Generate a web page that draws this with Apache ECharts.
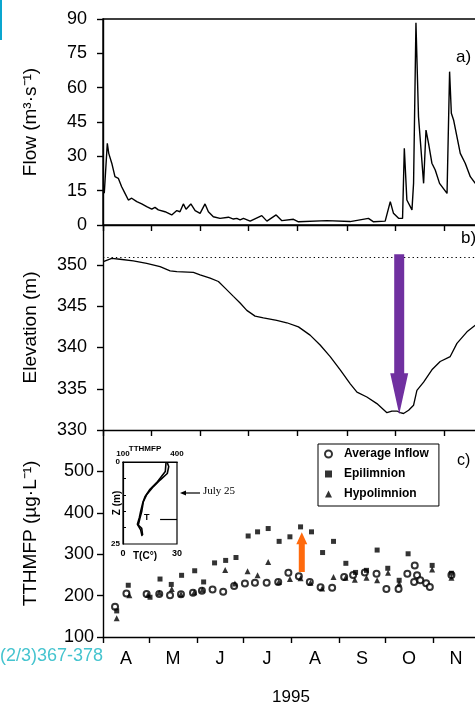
<!DOCTYPE html>
<html><head><meta charset="utf-8">
<script src="https://cdn.jsdelivr.net/npm/echarts@6/dist/echarts.min.js"></script>
<style>html,body{margin:0;padding:0;background:#fff}#c{width:475px;height:708px}</style>
</head><body><div id="c"></div>
<script>
// ---- x axis: days since April 1, 1995 ----
const monthStarts = [0,30,61,91,122,153,183,214,244];
const monthMids = [15,45.5,76,106.5,137.5,168,198.5,229];
const monthLabels = ['A','M','J','J','A','S','O','N'];

// ---- a) flow ----
const flowDays = [0.8,1.9,2.7,3.6,5.5,7.5,9.6,11.7,13.8,15.9,18.0,21.2,24.3,27.4,30.6,32.6,34.7,38.9,43.1,46.3,48.3,50.4,52.1,55.1,57.8,60.9,64.0,66.1,69.2,73.4,78.7,81.8,83.9,86.0,88.1,92.3,99.6,102.8,108.6,112.2,119.5,122.6,140.4,155,166.5,169.7,177.0,180.2,182.2,185.4,187.9,189.0,190.6,193.8,194.8,196.3,197.9,201.1,202.6,204.2,206.3,208.4,211.1,215.8,217.4,218.5,219.9,222.0,224.1,227.2,230.4,233.5,236.6];
const flowValues = [13.9,13.5,35.7,31.3,27,21.1,20.4,16.7,13.8,10.9,11.7,10.2,9.2,8,6.9,7.7,6.6,5.8,4.4,6.3,5.8,9.2,6.9,9.2,6.3,5.1,9.2,5.8,3.6,2.9,3.4,2.6,2.9,2.2,2.9,1.7,4.1,1.7,4.4,1.9,2.5,1.4,1.9,1.5,2.9,1.4,1.7,10.2,5.1,2.9,2.9,33.5,10.9,6.6,18.2,88.4,47.3,18.2,41.5,35.7,27,24,18.2,13.8,67,48.8,45.9,38.6,31.3,27,21.1,18.2,23];

// ---- b) elevation ----
const elevDays = [0.2,1.3,5.5,10.7,19.0,27.4,35.8,42.1,46.3,56.7,60.9,67.2,72.4,76.6,81.8,86.0,90.2,95.4,100.6,109.0,115.3,122.6,129.9,136.2,142.5,148.8,155.1,159.3,165.5,171.8,178.1,181.2,184.4,186.4,188.5,191.7,194.8,196.9,201.1,206.3,211.5,217.8,222.0,228.3,233.5,236.7];
const elevValues = [350.4,350.5,350.8,350.7,350.5,350.2,349.8,349.3,349.2,349.1,348.8,348.4,348.0,347.2,346.2,345.4,344.5,343.8,343.6,343.3,343.0,342.5,341.5,340.3,338.9,337.3,335.6,334.6,334.0,333.2,332.1,332.3,332.3,332.1,332.0,332.4,333.0,334.8,335.8,337.3,338.3,338.9,340.5,341.9,342.7,343.1];
const fullPoolElev = 351;
const elevArrow = [185.8, 351.3, 331.9]; // day, from, to

// ---- c) TTHMFP ----
const inflowDays = [7.8,15.2,28.3,36.5,43.5,50.6,58.4,64.2,71.1,78.0,85.1,92.1,98.6,106.2,113.7,120.3,127.1,134.2,141.2,148.7,156.5,162.3,169.9,177.5,183.9,191.8,197.5,202.3,201.9,203.8,205.9,209.7,212.1,226.1];
const inflowValues = [173,205,204,204,201,203,207,212,215,209,223,229,231,231,233,255,247,233,220,219,245,250,256,253,216,216,253,273,233,249,237,230,221,250];
const epiDays = [8.9,16.4,30.5,37.0,44.3,51.0,59.5,65.3,72.4,79.6,86.3,94.2,100.3,107.2,114.3,121.3,128.2,135.3,142.5,149.6,157.6,163.9,171.0,177.9,184.8,192.2,198.0,213.6,226.1];
const epiValues = [163,225,196,240,227,249,260,233,279,285,292,344,354,362,331,342,366,354,304,331,278,256,261,310,266,237,301,273,254];
const hypoDays = [8.9,17.1,29.2,36.5,44.6,50.6,59.2,64.5,79.3,85.6,93.8,100.3,107.2,114.1,121.3,128.2,134.6,142.2,149.6,157.4,163.4,171.0,177.9,185.0,192.2,213.6,226.1];
const hypoValues = [145,201,202,207,216,203,208,214,262,229,259,249,281,233,240,242,231,217,245,243,238,243,237,255,229,263,243];
const tthmArrow = [129, 257, 353];

// ---- inset: July 25 profile ----
const insetTempDepth = [0.2,1.4,3.5,5.5,7.5,10,12.1,15.1,17.2,19.2,20.2,22.3];
const insetTemp = [24.6,25.4,24.6,20.6,16.9,13.1,11.3,10.4,9.4,8.5,10.4,10.9];
const insetTthmDepth = [0.2,2.9,6.3,8.3,10.6,12.6,15.1,16.9,19,20.7,22.6];
const insetTthm = [339,335,287,250,222,209,198,191,180,198,206];
const thermoclineDepth = 17.4;

const zip = (a, b) => a.map((v, i) => [v, b[i]]);
const FONT = 'Liberation Sans';

function arrowRender(shaftW, headW, headL, color) {
  return function (params, api) {
    const x = api.value(0), y0 = api.value(1), y1 = api.value(2);
    const p0 = api.coord([x, y0]), p1 = api.coord([x, y1]);
    const dir = p1[1] > p0[1] ? 1 : -1;
    const hb = p1[1] - dir * headL;
    const cx = p1[0];
    return {
      type: 'polygon',
      shape: { points: [[cx - shaftW/2, p0[1]], [cx + shaftW/2, p0[1]], [cx + shaftW/2, hb], [cx + headW/2, hb], [cx, p1[1]], [cx - headW/2, hb], [cx - shaftW/2, hb]] },
      style: { fill: color }
    };
  };
}

const axisLineBlack = { show: true, lineStyle: { color: '#000', width: 1.4 } };
const monthTick = { show: true, customValues: monthStarts, length: 6, inside: false, lineStyle: { color: '#000', width: 1.4 } };
const yTick = { show: true, length: 6, lineStyle: { color: '#000', width: 1.4 } };
const yLabel = { fontSize: 18, color: '#000', margin: 16, fontFamily: FONT };
const yName = { fontSize: 19, color: '#000', fontFamily: FONT };

const chart = echarts.init(document.getElementById('c'), null, { renderer: 'canvas' });
chart.setOption({
  animation: false,
  backgroundColor: '#fff',
  textStyle: { fontFamily: FONT },
  grid: [
    { left: 103, top: 19, width: 389, height: 206, show: true, borderColor: '#000', borderWidth: 1.4, outerBoundsMode: 'none', containLabel: false },
    { left: 103, top: 225, width: 389, height: 205, outerBoundsMode: 'none', containLabel: false },
    { left: 103, top: 430, width: 376, height: 207, outerBoundsMode: 'none', containLabel: false },
    { left: 123, top: 462, width: 54, height: 82, show: true, borderColor: '#000', borderWidth: 1.2, backgroundColor: '#fff', outerBoundsMode: 'none', containLabel: false }
  ],
  xAxis: [
    { gridIndex: 0, type: 'value', min: 0, max: 244, axisLine: axisLineBlack, axisTick: monthTick, axisLabel: { show: false }, splitLine: { show: false } },
    { gridIndex: 1, type: 'value', min: 0, max: 244, axisLine: axisLineBlack, axisTick: monthTick, axisLabel: { show: false }, splitLine: { show: false } },
    { gridIndex: 2, type: 'value', min: 0, max: 244, axisLine: axisLineBlack, axisTick: monthTick, splitLine: { show: false },
      axisLabel: { customValues: monthMids, formatter: v => monthLabels[monthMids.indexOf(v)] || '', fontSize: 18, color: '#000', margin: 13 },
      name: '1995', nameLocation: 'middle', nameGap: 52, nameMoveOverlap: false, nameTextStyle: { fontSize: 17, color: '#000' } },
    { gridIndex: 3, type: 'value', min: 0, max: 30, position: 'bottom', axisLine: { show: true, lineStyle: { color: '#000', width: 1.2 } }, axisTick: { show: false }, splitLine: { show: false },
      axisLabel: { customValues: [0, 30], fontSize: 9, fontWeight: 'bold', color: '#000', margin: 5 },
      name: 'T(C°)', nameLocation: 'middle', nameGap: 7, nameMoveOverlap: false, nameTextStyle: { fontSize: 10, fontWeight: 'bold', color: '#000', padding: [0, 10, 0, 0] } },
    { gridIndex: 3, type: 'value', min: 100, max: 400, position: 'top', axisLine: { show: true, lineStyle: { color: '#000', width: 1.2 } }, axisTick: { show: false }, splitLine: { show: false },
      axisLabel: { customValues: [100, 400], fontSize: 8, fontWeight: 'bold', color: '#000', margin: 4 },
      name: 'TTHMFP', nameLocation: 'middle', nameGap: 9, nameMoveOverlap: false, nameTextStyle: { fontSize: 8, fontWeight: 'bold', color: '#000', padding: [0, 10, 0, 0] } }
  ],
  yAxis: [
    { gridIndex: 0, type: 'value', min: 0, max: 90, interval: 15, axisLine: axisLineBlack, axisTick: yTick, axisLabel: yLabel, splitLine: { show: false },
      name: 'Flow (m³·s⁻¹)', nameLocation: 'middle', nameGap: 63, nameMoveOverlap: false, nameTextStyle: yName },
    { gridIndex: 1, type: 'value', min: 330, max: 354.85, interval: 5, axisLine: axisLineBlack, axisTick: yTick, axisLabel: Object.assign({ showMaxLabel: false }, yLabel), splitLine: { show: false },
      name: 'Elevation (m)', nameLocation: 'middle', nameGap: 63, nameMoveOverlap: false, nameTextStyle: yName },
    { gridIndex: 2, type: 'value', min: 100, max: 600, interval: 100, axisLine: axisLineBlack, axisTick: yTick, axisLabel: Object.assign({}, yLabel, { showMaxLabel: false, margin: 9 }), splitLine: { show: false },
      name: 'TTHMFP (µg·L⁻¹)', nameLocation: 'middle', nameGap: 63, nameMoveOverlap: false, nameTextStyle: yName },
    { gridIndex: 3, type: 'value', min: 0, max: 25, inverse: true, axisLine: { show: true, lineStyle: { color: '#000', width: 1.2 } },
      axisTick: { show: true, customValues: [5, 10, 15, 20], inside: true, length: 3, lineStyle: { color: '#000' } },
      axisLabel: { customValues: [0, 25], fontSize: 8, fontWeight: 'bold', color: '#000', margin: 3 }, splitLine: { show: false },
      name: 'Z (m)', nameLocation: 'middle', nameGap: 1, nameMoveOverlap: false, nameTextStyle: { fontSize: 10, fontWeight: 'bold', color: '#000' } }
  ],
  legend: {
    data: ['Average Inflow', 'Epilimnion', 'Hypolimnion'],
    orient: 'vertical', left: 318, top: 444,
    padding: [4, 10, 6, 6], itemGap: 8, itemWidth: 7, itemHeight: 7,
    backgroundColor: '#fff', borderColor: '#000', borderWidth: 1,
    textStyle: { fontSize: 12, fontWeight: 'bold', color: '#000', padding: [0, 0, 0, 7] }
  },
  series: [
    { type: 'line', name: 'Flow', xAxisIndex: 0, yAxisIndex: 0, data: zip(flowDays, flowValues), symbol: 'none', lineStyle: { color: '#000', width: 1.4 } },
    { type: 'line', name: 'Elevation', xAxisIndex: 1, yAxisIndex: 1, data: zip(elevDays, elevValues), symbol: 'none', lineStyle: { color: '#000', width: 1.3 },
      markLine: { silent: true, symbol: 'none', label: { show: false }, lineStyle: { color: '#000', type: [1.3, 3], width: 1.2 }, data: [{ yAxis: fullPoolElev }] } },
    { type: 'custom', name: 'elevArrow', xAxisIndex: 1, yAxisIndex: 1, data: [elevArrow], encode: { x: 0, y: [1, 2] }, renderItem: arrowRender(10, 18, 41, '#7030a0'), z: 5 },
    { type: 'scatter', name: 'Average Inflow', xAxisIndex: 2, yAxisIndex: 2, data: zip(inflowDays, inflowValues), symbol: 'emptyCircle', symbolSize: 6,
      itemStyle: { color: '#000', borderColor: '#000', borderWidth: 1.5 }, z: 2 },
    { type: 'scatter', name: 'Hypolimnion', xAxisIndex: 2, yAxisIndex: 2, data: zip(hypoDays, hypoValues), symbol: 'triangle', symbolSize: 6,
      itemStyle: { color: '#000' }, z: 3 },
    { type: 'scatter', name: 'Epilimnion', xAxisIndex: 2, yAxisIndex: 2, data: zip(epiDays, epiValues), symbol: 'rect', symbolSize: 5,
      itemStyle: { color: '#000' }, z: 4 },
    { type: 'custom', name: 'tthmArrow', xAxisIndex: 2, yAxisIndex: 2, data: [tthmArrow], encode: { x: 0, y: [1, 2] }, renderItem: arrowRender(6, 11, 12, '#ff6a0d'), z: 5 },
    { type: 'line', name: 'T profile', xAxisIndex: 3, yAxisIndex: 3, data: zip(insetTemp, insetTempDepth), symbol: 'none', lineStyle: { color: '#000', width: 1.6 }, z: 6,
      markLine: { silent: true, symbol: 'none', label: { show: false }, lineStyle: { color: '#000', type: 'solid', width: 1.2 },
        data: [[{ coord: [20.6, thermoclineDepth] }, { coord: [30, thermoclineDepth] }]] } },
    { type: 'line', name: 'TTHMFP profile', xAxisIndex: 4, yAxisIndex: 3, data: zip(insetTthm, insetTthmDepth), symbol: 'none', lineStyle: { color: '#000', width: 1.6 }, z: 6 }
  ],
  graphic: [
    { type: 'rect', left: 0, top: 0, shape: { width: 2, height: 40 }, style: { fill: '#0aa6cf' } },
    { type: 'text', left: 456, top: 49, style: { text: 'a)', font: '17px "Liberation Sans"', fill: '#000' } },
    { type: 'text', left: 461, top: 230, style: { text: 'b)', font: '17px "Liberation Sans"', fill: '#000' } },
    { type: 'text', left: 457, top: 453, style: { text: 'c)', font: '16px "Liberation Sans"', fill: '#000' } },
    { type: 'text', left: 0, top: 647, style: { text: '(2/3)367-378', font: '18px "Liberation Sans"', fill: '#45c4cf' } },
    { type: 'text', left: 203, top: 486, style: { text: 'July 25', font: '11px "Liberation Serif"', fill: '#000' } },
    { type: 'line', shape: { x1: 200, y1: 493, x2: 184, y2: 493 }, style: { stroke: '#000', lineWidth: 1.2 } },
    { type: 'polygon', shape: { points: [[180, 493], [186, 490.5], [186, 495.5]] }, style: { fill: '#000' } },
    { type: 'text', left: 144, top: 513, style: { text: 'T', font: 'bold 9px "Liberation Sans"', fill: '#000' } }
  ]
});
</script>
</body></html>
